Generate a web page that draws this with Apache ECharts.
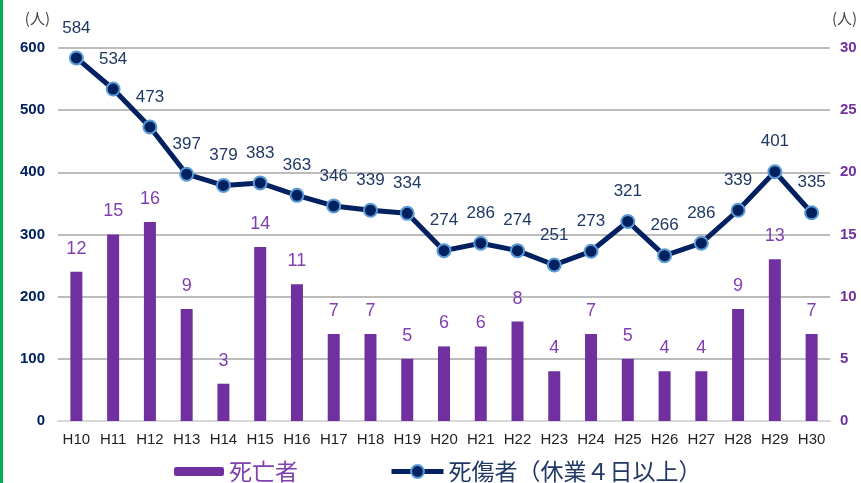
<!DOCTYPE html>
<html>
<head>
<meta charset="utf-8">
<script src="https://cdn.jsdelivr.net/npm/echarts@6/dist/echarts.min.js"></script>
<style>
  html, body { margin: 0; padding: 0; background: #fff; }
  #chart { width: 861px; height: 483px; border-left: 3px solid #00b050; box-sizing: border-box; }
</style>
</head>
<body>
<div id="chart"></div>
<script>
// 年度（平成）
const years = ['H10', 'H11', 'H12', 'H13', 'H14', 'H15', 'H16', 'H17', 'H18', 'H19', 'H20',
  'H21', 'H22', 'H23', 'H24', 'H25', 'H26', 'H27', 'H28', 'H29', 'H30']
// 死亡者（右軸）
const deaths = [12, 15, 16, 9, 3, 14, 11, 7, 7, 5, 6, 6, 8, 4, 7, 5, 4, 4, 9, 13, 7]
// 死傷者（休業4日以上、左軸）
const casualties = [584, 534, 473, 397, 379, 383, 363, 346, 339, 334, 274, 286, 274, 251,
  273, 321, 266, 286, 339, 401, 335]

const FONT = '"Liberation Sans Narrow", "Liberation Sans", "Noto Sans CJK JP", sans-serif'
const CJK = '"Noto Sans CJK JP", sans-serif'
const NAVY = '#002060'
const PURPLE = '#7030a0'

const chart = echarts.init(document.getElementById('chart'))

chart.setOption({
  animation: false,
  textStyle: { fontFamily: FONT },
  grid: { left: 55, right: 31, top: 48, bottom: 62, outerBoundsMode: 'none', containLabel: false },
  legend: [
    {
      data: [{ name: '死亡者', textStyle: { color: '#7f3fb0' } }],
      left: 166, top: 455,
      itemWidth: 50, itemHeight: 9,
      textStyle: { fontFamily: CJK, fontSize: 23 }
    },
    {
      data: [{ name: '死傷者（休業４日以上）', textStyle: { color: '#203864' } }],
      left: 381, top: 455,
      itemWidth: 52, itemHeight: 16,
      lineStyle: { width: 5, color: NAVY },
      textStyle: { fontFamily: CJK, fontSize: 23 }
    }
  ],
  xAxis: {
    type: 'category',
    data: years,
    axisLine: { lineStyle: { color: '#d9d9d9', width: 2 } },
    axisTick: { show: false },
    axisLabel: { color: '#222', fontSize: 15, margin: 11, fontFamily: FONT }
  },
  yAxis: [
    {
      type: 'value', min: 0, max: 600, interval: 100,
      name: '(人)', nameLocation: 'end', nameGap: 22,
      nameTextStyle: { color: '#444', fontSize: 15, fontFamily: CJK, align: 'right', padding: [0, 8, 0, 0] },
      axisLabel: { color: NAVY, fontWeight: 'bold', fontSize: 15, margin: 13 },
      splitLine: { lineStyle: { color: '#a6a6a6', width: 1.5 } },
      axisLine: { show: false }, axisTick: { show: false }
    },
    {
      type: 'value', min: 0, max: 30, interval: 5,
      name: '(人)', nameLocation: 'end', nameGap: 22,
      nameTextStyle: { color: '#444', fontSize: 15, fontFamily: CJK, align: 'left', padding: [0, 0, 0, 2] },
      axisLabel: { color: PURPLE, fontWeight: 'bold', fontSize: 15, margin: 10 },
      splitLine: { show: false },
      axisLine: { show: false }, axisTick: { show: false }
    }
  ],
  series: [
    {
      name: '死亡者',
      type: 'bar',
      yAxisIndex: 1,
      data: deaths,
      barWidth: 12,
      itemStyle: { color: PURPLE },
      label: {
        show: true, position: 'top', distance: 14,
        color: '#7f3fb0', fontSize: 18
      }
    },
    {
      name: '死傷者（休業４日以上）',
      type: 'line',
      yAxisIndex: 0,
      data: casualties,
      symbol: 'circle',
      symbolSize: 13,
      lineStyle: { color: NAVY, width: 5 },
      itemStyle: { color: NAVY, borderColor: '#5b9bd5', borderWidth: 2 },
      label: {
        show: true, position: 'top', distance: 14,
        color: '#203864', fontSize: 17
      },
      z: 3
    }
  ]
})
</script>
</body>
</html>
